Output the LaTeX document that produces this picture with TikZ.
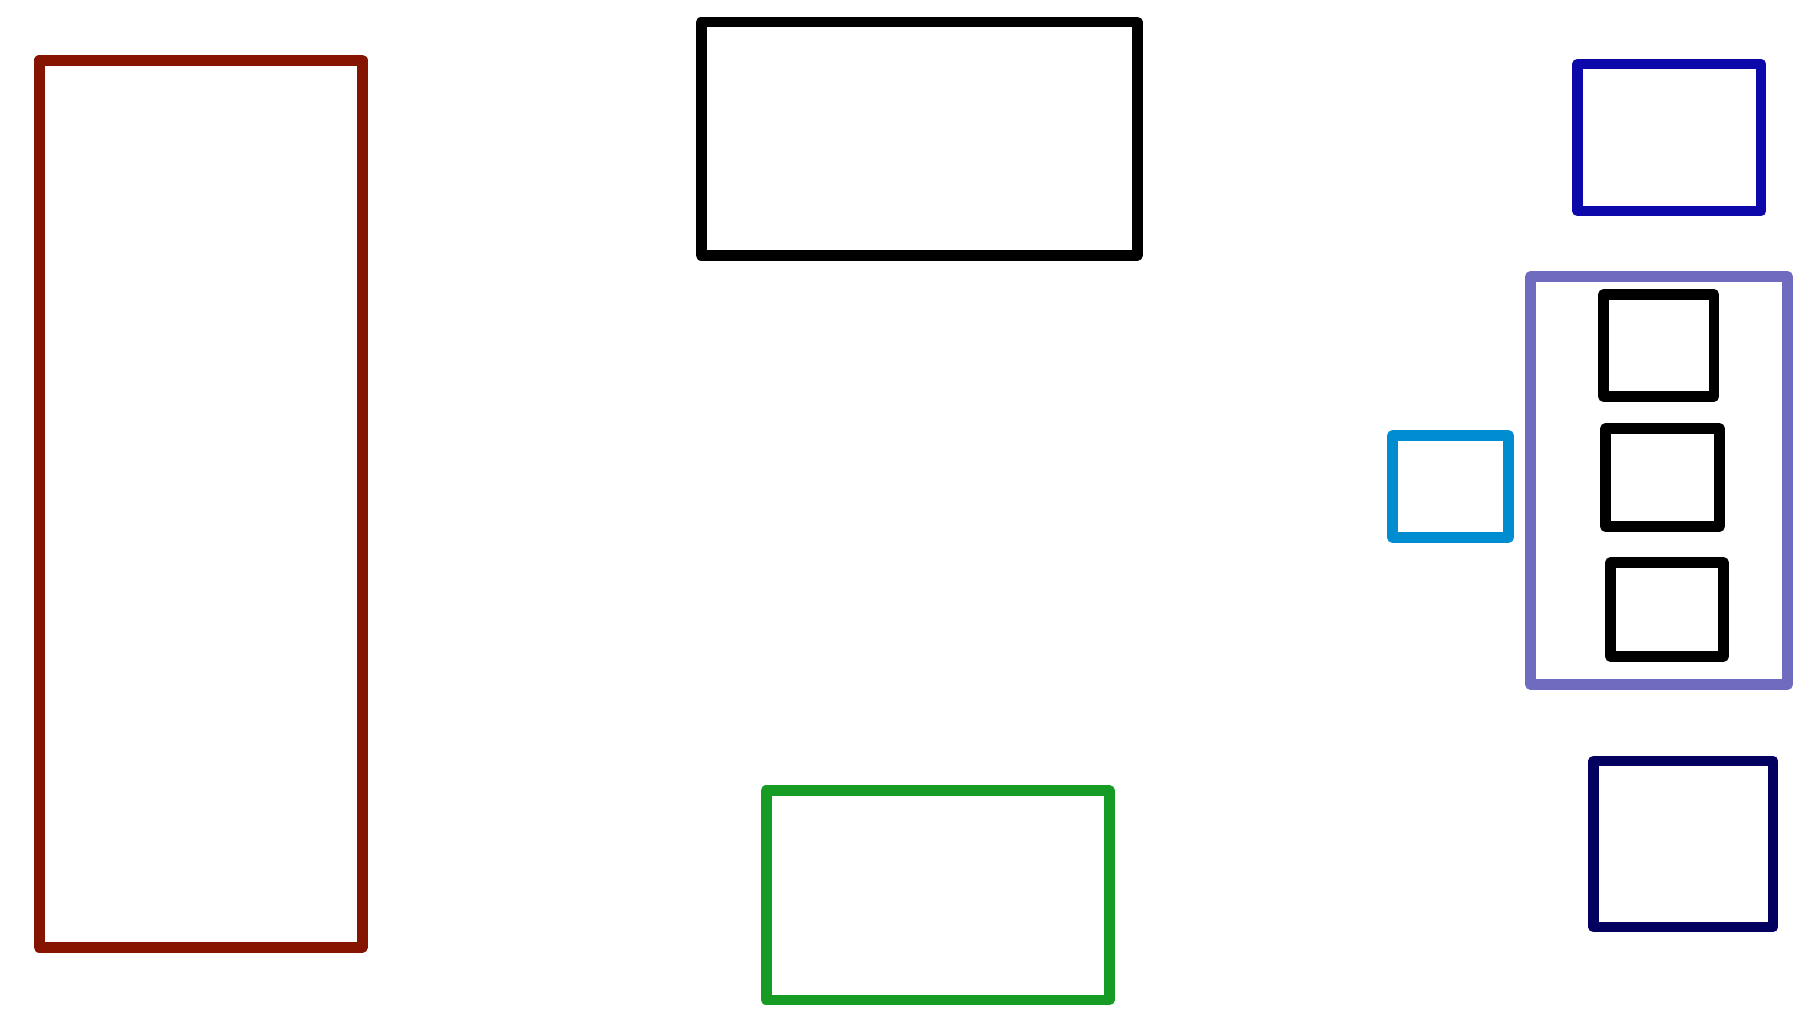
\documentclass[tikz,border=0pt]{standalone}
\usepackage{xcolor}
\definecolor{brick-red}{HTML}{841400}
\definecolor{deep-blue}{HTML}{0C08AA}
\definecolor{lavender}{HTML}{6F6CC0}
\definecolor{sky-blue}{HTML}{008CD0}
\definecolor{leaf-green}{HTML}{169C25}
\definecolor{navy-blue}{HTML}{03005F}
\usepackage{tikz}
\tikzset{box/.style = {draw, line width=5.4pt, line join=round, inner sep=0pt, outer sep=0pt}}
\tikzset{group/.style = {draw, line width=5.4pt, line join=round, inner sep=0pt, outer sep=0pt, draw=lavender}}
\tikzset{item/.style = {draw, line width=5.4pt, line join=round, inner sep=0pt, outer sep=0pt, draw=black}}

\begin{document}
\begin{tikzpicture}[x=0.5pt, y=-0.5pt]

\fill[white] (0,0) rectangle (1820,1024);
\useasboundingbox (0,0) rectangle (1820,1024);

% left column
\node[box, draw=brick-red, minimum width=161.5pt, minimum height=443.5pt] (store) at (200.8,503.8) {};
% middle column
\node[box, draw=black, minimum width=218pt, minimum height=116.65pt] (top) at (919.3,138.7) {};
\node[box, draw=leaf-green, minimum width=171.5pt, minimum height=104.85pt] (bottom) at (937.8,895.2) {};
% right column
\node[box, draw=deep-blue, minimum width=91.75pt, minimum height=73.5pt] (head) at (1669.25,137.5) {};
\node[group, minimum width=128.5pt, minimum height=204pt] (stack) at (1659,480.5) {};
\node[item, minimum width=55.25pt, minimum height=51pt] (s1) at (1658.75,345.5) {};
\node[item, minimum width=57pt, minimum height=49pt] (s2) at (1662.5,477.5) {};
\node[item, minimum width=56.5pt, minimum height=47pt] (s3) at (1667,609.5) {};
\node[box, draw=sky-blue, minimum width=58pt, minimum height=51pt] (side) at (1450.5,486.5) {};
\node[box, draw=navy-blue, minimum width=89.75pt, minimum height=83pt] (tail) at (1683.25,844) {};

\end{tikzpicture}
\end{document}
